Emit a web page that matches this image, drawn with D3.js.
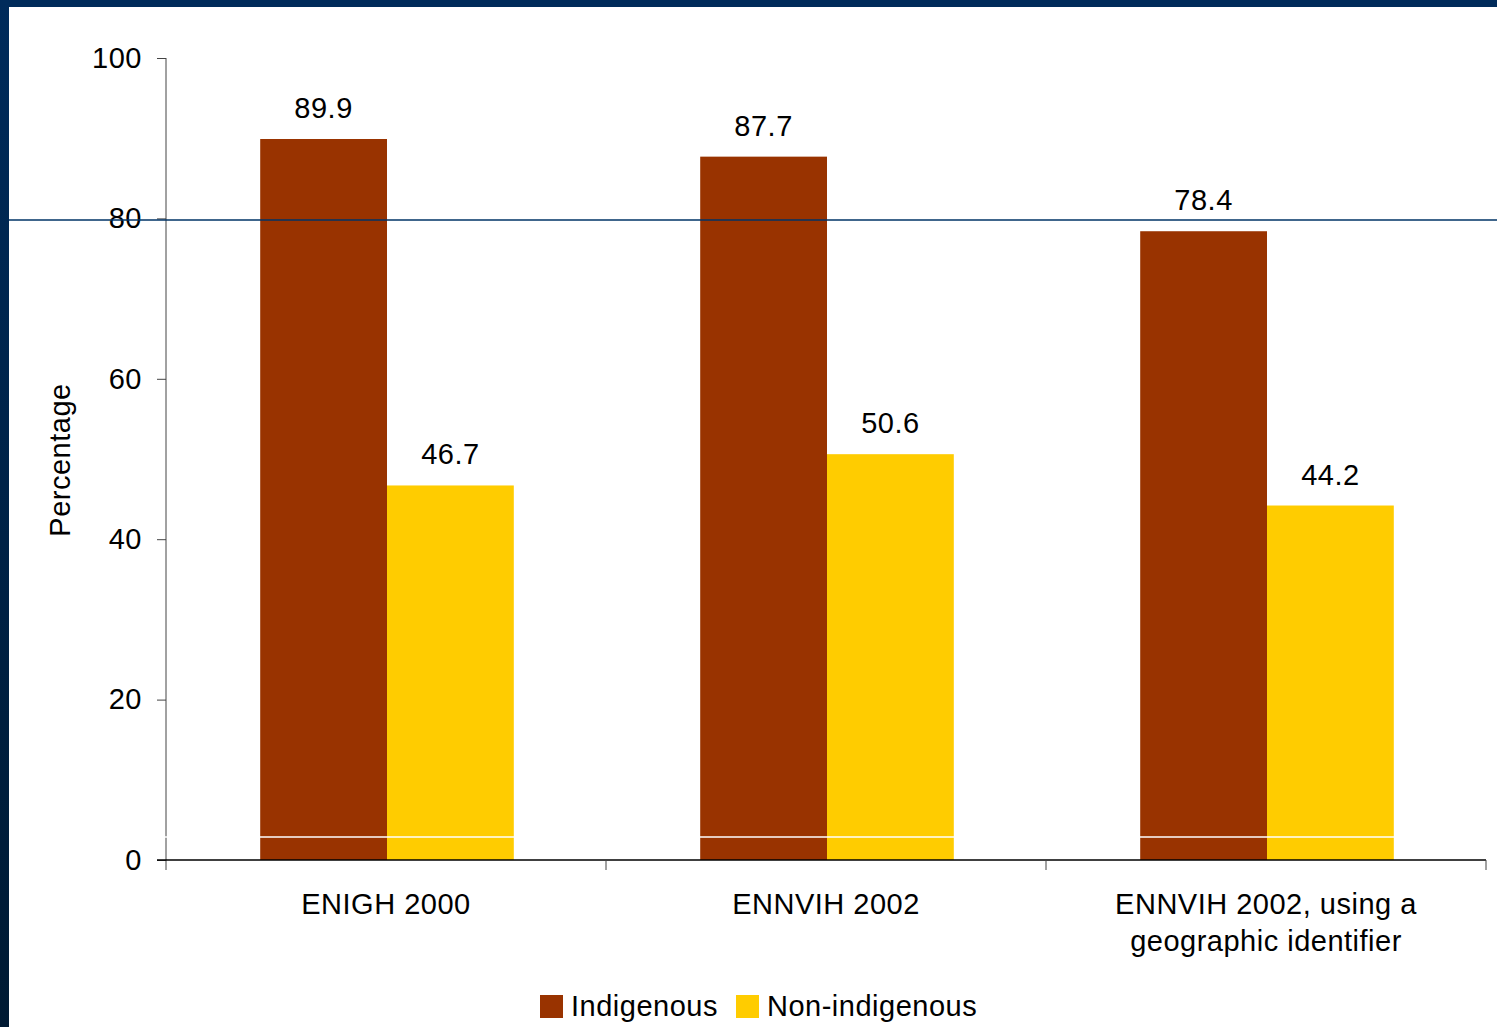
<!DOCTYPE html>
<html>
<head>
<meta charset="utf-8">
<script src="https://cdn.jsdelivr.net/npm/d3@7"></script>
<style>
  body { margin: 0; background: #fff; }
  svg { display: block; font-family: "Liberation Sans", Arial, sans-serif; }
  svg text { letter-spacing: 0.5px; }
</style>
</head>
<body>
<div id="vis"></div>
<script>
// data
const CATEGORIES = ["ENIGH 2000", "ENNVIH 2002", "ENNVIH 2002, using a geographic identifier"];
const SERIES = ["Indigenous", "Non-indigenous"];
const INDIGENOUS = [89.9, 87.7, 78.4];
const NON_INDIGENOUS = [46.7, 50.6, 44.2];
const Y_TICKS = [0, 20, 40, 60, 80, 100];

const COLORS = {"Indigenous": "#993300", "Non-indigenous": "#FFCC00"};

const FRAME_WIDTH = 1497;
const FRAME_HEIGHT = 1027;
const PLOT = {left: 166, right: 1486, top: 58, bottom: 860};

const FRAME = d3.select("#vis")
                .append("svg")
                  .attr("width", FRAME_WIDTH)
                  .attr("height", FRAME_HEIGHT);

// slide background bands
const defs = FRAME.append("defs");
const grad = defs.append("linearGradient")
                 .attr("id", "sideGrad")
                 .attr("x1", 0).attr("y1", 0).attr("x2", 0).attr("y2", 1);
grad.append("stop").attr("offset", "0%").attr("stop-color", "#002b5b");
grad.append("stop").attr("offset", "100%").attr("stop-color", "#001a33");

FRAME.append("rect")
      .attr("x", 0).attr("y", 0)
      .attr("width", FRAME_WIDTH).attr("height", 7)
      .attr("fill", "#002b5a");
FRAME.append("rect")
      .attr("x", 0).attr("y", 0)
      .attr("width", 9).attr("height", FRAME_HEIGHT)
      .attr("fill", "url(#sideGrad)");

// scales
const Y_SCALE = d3.scaleLinear()
                  .domain([0, 100])
                  .range([PLOT.bottom, PLOT.top]);

const X0 = d3.scaleBand()
             .domain(CATEGORIES)
             .range([PLOT.left, PLOT.right])
             .padding(0);

const X1 = d3.scaleBand()
             .domain(SERIES)
             .range([0, X0.bandwidth()])
             .paddingInner(0)
             .paddingOuter(0.735);

const rows = CATEGORIES.map((c, i) => {
  return {category: c, values: [
    {series: "Indigenous", value: INDIGENOUS[i]},
    {series: "Non-indigenous", value: NON_INDIGENOUS[i]}
  ]};
});

// bars
const groups = FRAME.selectAll(".group")
    .data(rows)
    .enter()
    .append("g")
      .attr("transform", (d) => { return "translate(" + (X0(d.category) + 1) + ",0)"; });

groups.selectAll("rect")
    .data((d) => { return d.values; })
    .enter()
    .append("rect")
      .attr("x", (d) => { return X1(d.series); })
      .attr("y", (d) => { return Y_SCALE(d.value); })
      .attr("width", X1.bandwidth())
      .attr("height", (d) => { return Y_SCALE(0) - Y_SCALE(d.value); })
      .attr("fill", (d) => { return COLORS[d.series]; });

groups.selectAll("text")
    .data((d) => { return d.values; })
    .enter()
    .append("text")
      .attr("x", (d) => { return X1(d.series) + X1.bandwidth() / 2; })
      .attr("y", (d) => { return Y_SCALE(d.value) - 21; })
      .attr("text-anchor", "middle")
      .attr("font-size", "29px")
      .attr("fill", "#000")
      .text((d) => { return d.value.toFixed(1); });

// y axis
const yAxis = FRAME.append("g")
      .attr("transform", "translate(" + PLOT.left + ",0)")
      .call(d3.axisLeft(Y_SCALE).tickValues(Y_TICKS).tickSize(9).tickPadding(15).tickSizeOuter(0));
yAxis.select(".domain").remove();
yAxis.selectAll("line").attr("stroke", "#444");
yAxis.selectAll("text")
      .attr("font-size", "29px")
      .attr("font-family", "Liberation Sans, Arial, sans-serif")
      .attr("fill", "#000");
yAxis.append("line")
      .attr("x1", 0).attr("x2", 0)
      .attr("y1", PLOT.top).attr("y2", PLOT.bottom + 10)
      .attr("stroke", "#444");

// x axis line and boundary ticks
FRAME.append("line")
      .attr("x1", PLOT.left - 9).attr("x2", PLOT.right)
      .attr("y1", PLOT.bottom).attr("y2", PLOT.bottom)
      .attr("stroke", "#000")
      .attr("stroke-width", 1.5);

FRAME.selectAll(".xtick")
    .data(CATEGORIES)
    .enter()
    .append("line")
      .attr("x1", (d) => { return X0(d) + X0.bandwidth(); })
      .attr("x2", (d) => { return X0(d) + X0.bandwidth(); })
      .attr("y1", PLOT.bottom).attr("y2", PLOT.bottom + 10)
      .attr("stroke", "#444");

// category labels, wrapped
const catLabels = FRAME.selectAll(".cat")
    .data(CATEGORIES)
    .enter()
    .append("text")
      .attr("x", (d) => { return X0(d) + X0.bandwidth() / 2; })
      .attr("y", 914)
      .attr("text-anchor", "middle")
      .attr("font-size", "29px")
      .attr("fill", "#000");

catLabels.each(function(d) {
  const el = d3.select(this);
  const words = d.split(" ");
  let lines = [];
  let line = [];
  const probe = el.append("tspan");
  words.forEach((w) => {
    line.push(w);
    probe.text(line.join(" "));
    if (probe.node().getComputedTextLength() > 340 && line.length > 1) {
      line.pop();
      lines.push(line.join(" "));
      line = [w];
    }
  });
  lines.push(line.join(" "));
  probe.remove();
  lines.forEach((l, i) => {
    el.append("tspan")
      .attr("x", X0(d) + X0.bandwidth() / 2)
      .attr("dy", i === 0 ? 0 : 37)
      .text(l);
  });
});

// y axis title
FRAME.append("text")
      .attr("transform", "translate(70,460) rotate(-90)")
      .attr("text-anchor", "middle")
      .attr("font-size", "29px")
      .attr("fill", "#000")
      .text("Percentage");

// slide lines crossing the chart
FRAME.append("line")
      .attr("x1", 9).attr("x2", FRAME_WIDTH)
      .attr("y1", 220).attr("y2", 220)
      .attr("stroke", "#003366")
      .attr("stroke-width", 1.5);
FRAME.append("line")
      .attr("x1", 9).attr("x2", FRAME_WIDTH)
      .attr("y1", 837).attr("y2", 837)
      .attr("stroke", "#fff")
      .attr("stroke-width", 1.5);

// legend
const LEGEND_X = [540, 736];
const legend = FRAME.selectAll(".legend")
    .data(SERIES)
    .enter()
    .append("g")
      .attr("transform", (d, i) => { return "translate(" + LEGEND_X[i] + ",995)"; });
legend.append("rect")
      .attr("width", 23).attr("height", 23)
      .attr("fill", (d) => { return COLORS[d]; });
legend.append("text")
      .attr("x", 31).attr("y", 21)
      .attr("font-size", "29px")
      .attr("fill", "#000")
      .text((d) => { return d; });
</script>
</body>
</html>
